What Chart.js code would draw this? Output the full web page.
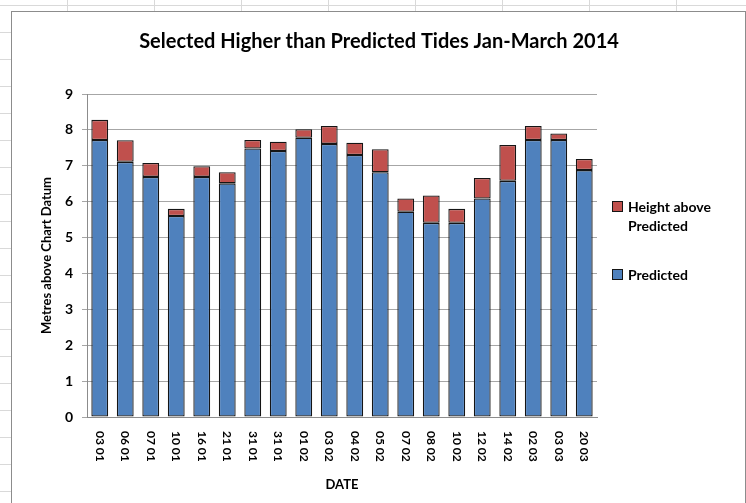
<!DOCTYPE html>
<html>
<head>
<meta charset="utf-8">
<script src="https://cdn.jsdelivr.net/npm/chart.js@4/dist/chart.umd.min.js"></script>
<style>
  html, body { margin: 0; padding: 0; }
  body {
    width: 746px; height: 503px; overflow: hidden; position: relative;
    background-color: #ffffff;
    background-image:
      repeating-linear-gradient(to right, transparent 0, transparent 67px, #d9d9d9 67px, #d9d9d9 68px, transparent 68px, transparent 87px),
      repeating-linear-gradient(to bottom, transparent 0, transparent 5px, #d9d9d9 5px, #d9d9d9 6px, transparent 6px, transparent 27px);
  }
  #box {
    position: absolute; left: 11px; top: 11px; width: 733px; height: 500px;
    border: 1px solid #8c8c8c; background: #ffffff;
  }
  #c { display: block; }
</style>
</head>
<body>
<div id="box"><canvas id="c" width="733" height="491"></canvas></div>
<script>
const chartTitle = "Selected Higher than Predicted Tides Jan-March 2014";
const xTitle = "DATE";
const yTitle = "Metres above Chart Datum";
const dates = ["03 01","06 01","07 01","10 01","16 01","21 01","31 01","31 01","01 02","03 02","04 02","05 02","07 02","08 02","10 02","12 02","14 02","02 03","03 03","20 03"];
const predicted = [7.72, 7.11, 6.69, 5.60, 6.69, 6.51, 7.48, 7.41, 7.78, 7.61, 7.30, 6.82, 5.72, 5.41, 5.41, 6.09, 6.58, 7.72, 7.72, 6.88];
const heightAbove = [0.56, 0.60, 0.39, 0.20, 0.30, 0.31, 0.24, 0.26, 0.24, 0.50, 0.34, 0.64, 0.37, 0.76, 0.39, 0.57, 1.00, 0.39, 0.18, 0.31];
const yTicks = [0, 1, 2, 3, 4, 5, 6, 7, 8, 9];

const FONT = "Lato, 'Open Sans', sans-serif";
const BLUE = "#4F81BD", RED = "#C0504D", EDGE = "#151515";

const textPlugin = {
  id: 'textPlugin',
  afterDraw(chart) {
    const ctx = chart.ctx, ca = chart.chartArea, xs = chart.scales.x;
    ctx.save();
    ctx.fillStyle = "#000";
    ctx.font = "bold 20px " + FONT;
    ctx.textAlign = "center"; ctx.textBaseline = "middle";
    ctx.fillText(chartTitle, 367, 30);
    ctx.font = "bold 12px " + FONT;
    dates.forEach((d, i) => {
      const x = xs.getPixelForTick(i);
      ctx.save();
      ctx.translate(x, ca.bottom + 14);
      ctx.rotate(Math.PI / 2);
      ctx.textAlign = "left"; ctx.textBaseline = "middle";
      ctx.fillText(d, 0, 0);
      ctx.restore();
    });
    ctx.font = "bold 13px " + FONT;
    ctx.textAlign = "center"; ctx.textBaseline = "middle";
    ctx.fillText(xTitle, (ca.left + ca.right) / 2, 473);
    ctx.save();
    ctx.translate(35, (ca.top + ca.bottom) / 2);
    ctx.rotate(-Math.PI / 2);
    ctx.fillText(yTitle, 0, 0);
    ctx.restore();
    ctx.font = "bold 14px " + FONT;
    ctx.textAlign = "left"; ctx.textBaseline = "middle";
    const items = [
      { ds: chart.data.datasets[1], y: 195 },
      { ds: chart.data.datasets[0], y: 263 }
    ];
    items.forEach(it => {
      ctx.fillStyle = it.ds.backgroundColor;
      ctx.fillRect(600.5, it.y - 5.5, 10, 10);
      ctx.strokeStyle = EDGE; ctx.lineWidth = 1;
      ctx.strokeRect(600.5, it.y - 5.5, 10, 10);
      ctx.fillStyle = "#000";
      const words = it.ds.label.split(" ");
      const lines = []; let cur = "";
      words.forEach(w => {
        const t = cur ? cur + " " + w : w;
        if (ctx.measureText(t).width > 95 && cur) { lines.push(cur); cur = w; } else cur = t;
      });
      lines.push(cur);
      lines.forEach((l, k) => ctx.fillText(l, 616, it.y + k * 19));
    });
    ctx.restore();
  }
};

new Chart(document.getElementById('c'), {
  type: 'bar',
  data: {
    labels: dates,
    datasets: [
      { label: "Predicted", data: predicted, backgroundColor: BLUE, borderColor: EDGE, borderWidth: 1.3, borderSkipped: false },
      { label: "Height above Predicted", data: heightAbove, backgroundColor: RED, borderColor: EDGE, borderWidth: 1.3, borderSkipped: false }
    ]
  },
  options: {
    responsive: false,
    animation: false,
    layout: { padding: { top: 82, right: 148, left: 0, bottom: 0 } },
    plugins: { legend: { display: false }, title: { display: false }, tooltip: { enabled: false } },
    datasets: { bar: { categoryPercentage: 1.0, barPercentage: 0.66 } },
    scales: {
      x: {
        stacked: true,
        grid: { display: false, drawTicks: false },
        border: { display: true, color: '#8c8c8c' },
        ticks: { display: false },
        afterFit(s) { s.height = 86; }
      },
      y: {
        stacked: true,
        min: 0, max: 9,
        afterBuildTicks(s) { s.ticks = yTicks.map(v => ({ value: v })); },
        grid: { color: '#a6a6a6', tickLength: 5, drawTicks: true },
        border: { display: true, color: '#8c8c8c' },
        ticks: { padding: 9, color: '#000', font: { family: FONT, size: 14, weight: 'bold' } },
        afterFit(s) { s.width = 75; }
      }
    }
  },
  plugins: [textPlugin]
});
</script>
</body>
</html>
